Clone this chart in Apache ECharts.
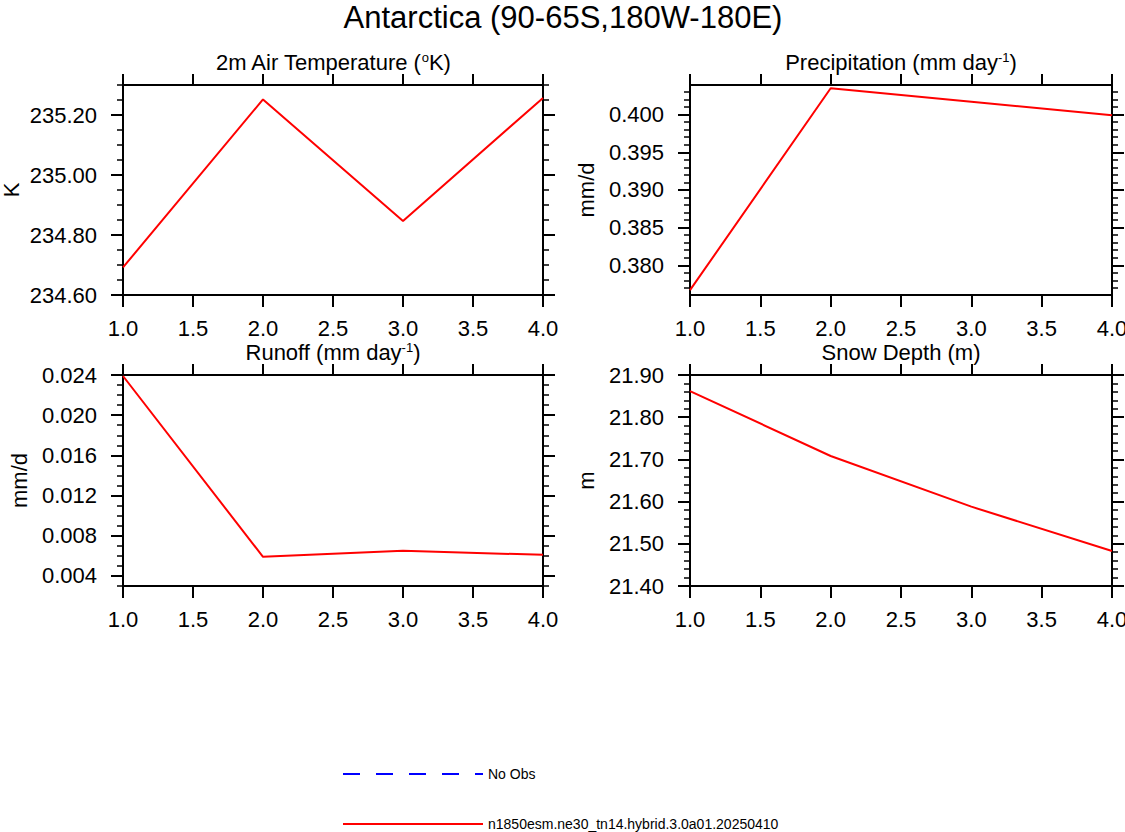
<!DOCTYPE html>
<html>
<head>
<meta charset="utf-8">
<title>Antarctica</title>
<script src="https://cdn.jsdelivr.net/npm/echarts@6/dist/echarts.min.js"></script>
<style>
  html, body { margin: 0; padding: 0; background: #fff; }
  #main { width: 1125px; height: 832px; }
</style>
</head>
<body>
<div id="main"></div>
<script>
// data
var years = [1, 2, 3, 4];
var caseName = 'n1850esm.ne30_tn14.hybrid.3.0a01.20250410';
var obsName = 'No Obs';

var tempValues = [234.692, 235.252, 234.847, 235.257];
var precValues = [0.3767, 0.4035, 0.4017, 0.3999];
var runoffValues = [0.0239, 0.0059, 0.0065, 0.0061];
var snowValues = [21.862, 21.708, 21.588, 21.483];

var tempTicks = [234.6, 234.8, 235.0, 235.2];
var precTicks = [0.380, 0.385, 0.390, 0.395, 0.400];
var runoffTicks = [0.004, 0.008, 0.012, 0.016, 0.020, 0.024];
var snowTicks = [21.4, 21.5, 21.6, 21.7, 21.8, 21.9];

var FONT = 'Liberation Sans, Arial, Helvetica, sans-serif';

var panels = [
  { values: tempValues, ticks: tempTicks, min: 234.6, max: 235.3, minor: 0.05, digits: 2,
    unit: 'K', gap: 101, title: '2m Air Temperature ({sup|o}K)',
    grid: { left: 123, top: 85, width: 420, height: 210 }, tx: 333, ty: 62 },
  { values: precValues, ticks: precTicks, min: 0.37606, max: 0.40393, minor: 0.001, digits: 3,
    unit: 'mm/d', gap: 93, title: 'Precipitation (mm day{sup|-1})',
    grid: { left: 690, top: 85, width: 422, height: 210 }, tx: 901, ty: 62 },
  { values: runoffValues, ticks: runoffTicks, min: 0.003, max: 0.024, minor: 0.001, digits: 3,
    unit: 'mm/d', gap: 93, title: 'Runoff (mm day{sup|-1})',
    grid: { left: 123, top: 375, width: 420, height: 211 }, tx: 333, ty: 352 },
  { values: snowValues, ticks: snowTicks, min: 21.4, max: 21.9, minor: 0.02, digits: 2,
    unit: 'm', gap: 93, title: 'Snow Depth (m)',
    grid: { left: 690, top: 375, width: 422, height: 211 }, tx: 901, ty: 352 }
];

// minor tick positions between the labelled ones
function minorTicks(min, max, step, majors) {
  var out = [];
  var k0 = Math.ceil(min / step - 1e-6);
  var k1 = Math.floor(max / step + 1e-6);
  for (var k = k0; k <= k1; k++) {
    var v = +(k * step).toFixed(6);
    var isMajor = majors.some(function (m) { return Math.abs(m - v) < step / 10; });
    if (!isMajor) out.push(v);
  }
  return out;
}

var grids = [], xAxes = [], yAxes = [], series = [], graphics = [];

panels.forEach(function (p, i) {
  grids.push(Object.assign({ outerBoundsMode: 'none', containLabel: false }, p.grid));
  var minors = minorTicks(p.min, p.max, p.minor, p.ticks);
  var line = { show: true, lineStyle: { color: '#000', width: 2 } };

  // bottom and top x axes
  xAxes.push({
    gridIndex: i, type: 'value', min: 1, max: 4, interval: 0.5, position: 'bottom',
    axisLine: Object.assign({ onZero: false }, line),
    axisTick: { show: true, inside: false, length: 12, lineStyle: { color: '#000', width: 2 } },
    axisLabel: { margin: 22, color: '#000', fontSize: 22, fontFamily: FONT,
      formatter: function (v) { return v.toFixed(1); } },
    splitLine: { show: false }
  });
  xAxes.push({
    gridIndex: i, type: 'value', min: 1, max: 4, interval: 0.5, position: 'top',
    axisLine: Object.assign({ onZero: false }, line),
    axisTick: { show: true, inside: false, length: 11, lineStyle: { color: '#000', width: 2 } },
    axisLabel: { show: false },
    splitLine: { show: false }
  });

  var base = { gridIndex: i, type: 'value', min: p.min, max: p.max, scale: true, splitLine: { show: false } };
  // left: labels + major ticks
  yAxes.push(Object.assign({}, base, {
    position: 'left',
    name: p.unit, nameLocation: 'middle', nameGap: p.gap, nameRotate: 90,
    nameTextStyle: { color: '#000', fontSize: 22, fontFamily: FONT },
    axisLine: line,
    axisTick: { show: true, length: 12, customValues: p.ticks, lineStyle: { color: '#000', width: 2 } },
    axisLabel: { show: true, margin: 26, color: '#000', fontSize: 22, fontFamily: FONT,
      customValues: p.ticks, formatter: function (v) { return v.toFixed(p.digits); } }
  }));
  // left: minor ticks
  yAxes.push(Object.assign({}, base, {
    position: 'left', axisLine: { show: false }, axisLabel: { show: false },
    axisTick: { show: true, length: 6, customValues: minors, lineStyle: { color: '#000', width: 1.5 } }
  }));
  // right: major ticks
  yAxes.push(Object.assign({}, base, {
    position: 'right', axisLine: line, axisLabel: { show: false },
    axisTick: { show: true, length: 12, customValues: p.ticks, lineStyle: { color: '#000', width: 2 } }
  }));
  // right: minor ticks
  yAxes.push(Object.assign({}, base, {
    position: 'right', axisLine: { show: false }, axisLabel: { show: false },
    axisTick: { show: true, length: 6, customValues: minors, lineStyle: { color: '#000', width: 1.5 } }
  }));

  series.push({
    name: caseName, type: 'line', xAxisIndex: i * 2, yAxisIndex: i * 4,
    data: years.map(function (x, j) { return [x, p.values[j]]; }),
    symbol: 'none', color: '#ff0000',
    lineStyle: { color: '#ff0000', width: 2 }
  });

  graphics.push({
    type: 'text', x: p.tx, y: p.ty,
    style: {
      text: p.title, fill: '#000', fontSize: 22, fontFamily: FONT,
      align: 'center', verticalAlign: 'middle',
      rich: { sup: { fontSize: 13, fontFamily: FONT, fill: '#000', verticalAlign: 'top', lineHeight: 13 } }
    }
  });
});

// obs entry only appears in the legend
series.push({
  name: obsName, type: 'line', xAxisIndex: 0, yAxisIndex: 0, data: [],
  symbol: 'none', color: '#0000ff',
  lineStyle: { color: '#0000ff', width: 1.5, type: [17, 16] }
});

graphics.push({
  type: 'text', x: 563, y: 17,
  style: { text: 'Antarctica (90-65S,180W-180E)', fill: '#000', fontSize: 31, fontFamily: FONT,
    align: 'center', verticalAlign: 'middle' }
});

var legendBase = {
  orient: 'vertical', left: 342, padding: 0, itemWidth: 140, itemHeight: 14, selectedMode: false,
  itemStyle: { opacity: 0 },
  textStyle: { color: '#000', fontSize: 14, fontFamily: FONT }
};

var chart = echarts.init(document.getElementById('main'), null, { renderer: 'svg' });
chart.setOption({
  backgroundColor: '#fff',
  animation: false,
  textStyle: { fontFamily: FONT },
  grid: grids,
  xAxis: xAxes,
  yAxis: yAxes,
  legend: [
    Object.assign({ data: [obsName], top: 767 }, legendBase),
    Object.assign({ data: [caseName], top: 817 }, legendBase)
  ],
  graphic: graphics,
  series: series
});
</script>
</body>
</html>
